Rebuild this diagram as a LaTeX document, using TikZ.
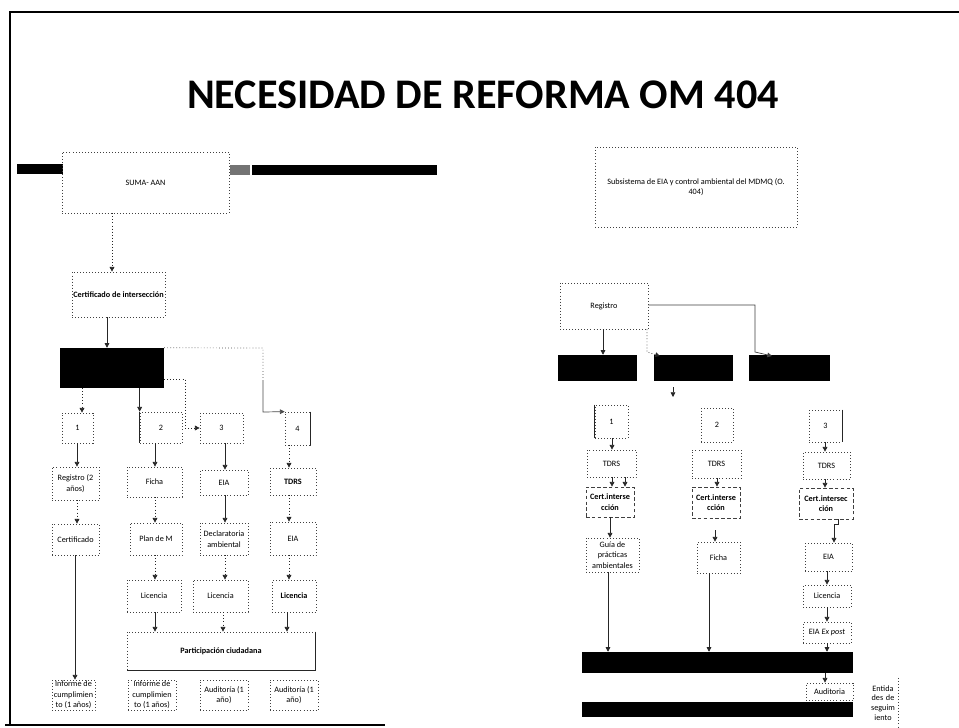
\documentclass[tikz,border=0pt]{standalone}
\usepackage{fontspec}
\setmainfont{Carlito}
\usetikzlibrary{arrows.meta}
\newcommand\pxu{0.3mm}
\newcommand\smf{\fontsize{7}{9}\selectfont}
\begin{document}
\begin{tikzpicture}[x=0.3mm,y=-0.3mm,
  bx/.style={draw=black!75, dotted, line width=0.6pt, inner sep=0pt, align=center, font=\smf, text=black},
  sz/.style 2 args={minimum width=#1*\pxu, minimum height=#2*\pxu},
  blk/.style={fill=black, draw=none, inner sep=0pt},
  arr/.style={-{Triangle[length=4pt,width=4pt]}, line width=0.6pt, black!85},
  darr/.style={arr, dotted},
  edge/.style={line width=1.2pt, black},
]
\fill[white] (0,0) rectangle (959,728);
\useasboundingbox (0,0) rectangle (959,728);
% slide frame
\draw[edge] (10,725) -- (10,12) -- (959,12);
\draw[edge] (5,725) -- (385,725);
% title
\node[font=\fontsize{36}{42}\selectfont\bfseries] (title) at (483,95) {NECESIDAD DE REFORMA OM 404};

% ---------- left diagram ----------
\node[blk, sz={46}{10}] (sumablk) at (40,169) {};
\node[blk, sz={185}{10}] (topbar) at (344.5,170) {};
\node[fill=black!55, inner sep=0pt, sz={20}{10}] (topbarl) at (240,170) {};
\node[bx, sz={167}{61}] (suma) at (145.5,182.5) {SUMA- AAN};
\node[bx, sz={93}{45}, font=\smf\bfseries] (cert) at (118.5,294.5) {Certificado de intersección};
\node[blk, sz={104}{40}] (blk1) at (112,368) {};
\node[bx, sz={31}{30}] (b1) at (77.5,428) {1};
\node[bx, sz={42}{31}] (b2) at (161,427.5) {2};
\node[bx, sz={43}{30}] (b3) at (221.5,428) {3};
\node[bx, sz={25}{33}] (b4) at (297.5,428.5) {4};
\draw[line width=0.6pt, black!85] (b2.north west) -- (b2.south west);
\draw[line width=0.6pt, black!85] (b4.north east) -- (b4.south east);

\node[bx, sz={47}{33}] (reg) at (75.5,483.5) {Registro (2\\años)};
\node[bx, sz={47}{31}] (cer) at (75.5,539.5) {Certificado};
\node[bx, sz={43}{30}] (inf1) at (73.5,695) {Informe de\\cumplimien\\to (1 años)};

\node[bx, sz={55}{30}] (ficha) at (154.5,482) {Ficha};
\node[bx, sz={52}{32}] (plan) at (156,539) {Plan de M};
\node[bx, sz={54}{32}] (lic2) at (154,596) {Licencia};
\node[bx, sz={48}{30}] (inf2) at (152,695) {Informe de\\cumplimien\\to (1 años)};

\node[bx, sz={48}{25}] (eia3) at (224,482.5) {EIA};
\node[bx, sz={48}{32}] (decl) at (224,539) {Declaratoria\\ambiental};
\node[bx, sz={55}{32}] (lic3) at (220.5,596) {Licencia};
\node[bx, sz={48}{30}] (aud3) at (224,695) {Auditoría (1\\año)};

\node[bx, sz={46}{27}, font=\smf\bfseries] (tdrs4) at (293,481.5) {TDRS};
\node[bx, sz={46}{33}] (eia4) at (293,538.5) {EIA};
\node[bx, sz={44}{32}, font=\smf\bfseries] (lic4) at (294,596) {Licencia};
\node[bx, sz={48}{30}] (aud4) at (294,695) {Auditoría (1\\año)};

\node[bx, sz={188}{38}, font=\smf\bfseries] (part) at (221,651) {Participación ciudadana};
\draw[line width=0.6pt, black!85] (part.north east) -- (part.south east) -- (part.south west);

% left connectors
\draw[darr] (suma.south -| 112,0) -- (cert.north -| 112,0);
\draw[arr] (cert.south -| 107,0) -- (blk1.north -| 107,0);
\draw[darr] (blk1.south -| 82,0) -- (b1.north -| 82,0);
\draw[arr] (blk1.south -| b2.west) -- (b2.north west);
\coordinate (c3a) at (185,379);
\draw[darr] (blk1.east |- c3a) -- (c3a) -- (185,428) -- (b3.west);
\coordinate (c4a) at (263,348);
\draw[line width=0.6pt, black!70, dotted] (blk1.north east) -- (c4a) -- (263,380);
\draw[arr, black!70] (263,380) -- (263,412) -- (b4.north west);

\draw[arr] (b1.south -| 77,0) -- (reg.north -| 77,0);
\draw[darr] (reg.south -| 77,0) -- (cer.north -| 77,0);
\draw[arr] (cer.south -| 75,0) -- (inf1.north -| 75,0);

\draw[arr] (b2.south -| 155,0) -- (ficha.north -| 155,0);
\draw[darr] (ficha.south -| 155,0) -- (plan.north -| 155,0);
\draw[darr] (plan.south -| 155,0) -- (lic2.north -| 155,0);
\draw[arr] (lic2.south -| 155,0) -- (part.north -| 155,0);

\draw[arr] (b3.south -| 225,0) -- (eia3.north -| 225,0);
\draw[arr] (eia3.south -| 225,0) -- (decl.north -| 225,0);
\draw[darr] (decl.south -| 225,0) -- (lic3.north -| 225,0);
\draw[darr] (lic3.south -| 223,0) -- (part.north -| 223,0);

\draw[darr] (b4.south -| 289,0) -- (tdrs4.north -| 289,0);
\draw[darr] (tdrs4.south -| 289,0) -- (eia4.north -| 289,0);
\draw[darr] (eia4.south -| 289,0) -- (lic4.north -| 289,0);
\draw[arr] (lic4.south -| 287,0) -- (part.north -| 287,0);

% ---------- right diagram ----------
\node[bx, sz={202}{80}] (subs) at (696,187) {Subsistema de EIA y control ambiental del MDMQ (O.\\404)};
\node[bx, sz={88}{46}] (regR) at (604,306) {Registro};
\node[blk, sz={79}{26}] (bk1) at (597.5,368) {};
\node[blk, sz={79}{26}] (bk2) at (693.5,368) {};
\node[blk, sz={81}{26}] (bk3) at (789.5,368) {};
\draw[arr] (regR.south -| 603,0) -- (bk1.north -| 603,0);
\coordinate (cr1) at (755,305);
\draw[arr, black!75] (regR.east |- cr1) -- (cr1) -- (755,352) -- (772,356);
\coordinate (cr2) at (647,352);
\draw[darr] (regR.south -| cr2) -- (cr2) -- (660,356);
\coordinate (bk2d) at (673,397);
\draw[arr] (bk2.south -| bk2d) ++(0,6) -- (bk2d);

\node[bx, sz={33}{33}] (r1) at (611.5,421.5) {1};
\draw[line width=0.6pt, black!85] (r1.north west) -- (r1.south west);
\node[bx, sz={49}{27}] (r1t) at (611.5,463.5) {TDRS};
\node[bx, sz={48}{30}, densely dashed, font=\smf\bfseries] (r1c) at (610,502) {Cert.interse\\cción};
\node[bx, sz={53}{34}] (r1g) at (612.5,555) {Guía de\\prácticas\\ambientales};

\node[bx, sz={32}{34}] (r2) at (717,425) {2};
\node[bx, sz={49}{28}] (r2t) at (716.5,464) {TDRS};
\node[bx, sz={48}{31}, densely dashed, font=\smf\bfseries] (r2c) at (716,502.5) {Cert.interse\\cción};
\node[bx, sz={43}{31}] (r2f) at (718.5,557.5) {Ficha};

\node[bx, sz={33}{32}] (r3) at (825.5,426) {3};
\draw[line width=0.6pt, black!85] (r3.north east) -- (r3.south east);
\node[bx, sz={47}{27}] (r3t) at (826.5,465.5) {TDRS};
\node[bx, sz={54}{31}, densely dashed, font=\smf\bfseries] (r3c) at (826,503.5) {Cert.intersec\\ción};
\node[bx, sz={47}{28}] (r3e) at (828.5,557) {EIA};
\node[bx, sz={48}{22}] (r3l) at (827,596) {Licencia};
\node[bx, sz={48}{21}] (r3x) at (827,632.5) {EIA \textit{Ex post}};

\node[blk, sz={271}{21}] (bar1) at (717.5,662.5) {};
\node[bx, sz={47}{17}] (aud) at (829.5,691.5) {Auditoria};
\node[blk, sz={271}{15}] (bar2) at (717.5,709.5) {};
\node[inner sep=0pt, align=center, font=\fontsize{7}{8.3}\selectfont, text=black, text width=30*\pxu, minimum height=50*\pxu] (ent) at (883,703) {Entida\\des de\\seguim\\iento};
\draw[dotted, line width=0.6pt, black!75] (ent.north east) -- (ent.south east);

\draw[arr] (r1.south -| 612,0) -- (r1t.north -| 612,0);
\draw[arr] (r1t.south -| 612,0) -- (r1c.north -| 612,0);
\draw[arr] (r1t.south -| 625,0) -- (r1c.north -| 625,0);
\draw[arr] (r1c.south -| 610,0) -- (r1g.north -| 610,0);
\draw[arr] (r1g.south -| 608,0) -- (bar1.north -| 608,0);

\draw[arr] (r2t.south -| 717,0) -- (r2c.north -| 717,0);
\draw[arr] (r2c.south -| 715,0) ++(0,12) -- (r2f.north -| 715,0);
\draw[arr] (r2f.south -| 709,0) -- (bar1.north -| 709,0);

\draw[arr] (r3.south -| 825,0) -- (r3t.north -| 825,0);
\draw[arr] (r3t.south -| 825,0) -- (r3c.north -| 825,0);
\draw[arr] (r3c.south -| 838,0) -- (838,524) -- (834,524) -- (r3e.north -| 834,0);
\draw[arr] (r3e.south -| 827,0) -- (r3l.north -| 827,0);
\draw[arr] (r3l.south -| 827,0) -- (r3x.north -| 827,0);
\draw[arr] (r3x.south -| 827,0) -- (bar1.north -| 827,0);
\draw[arr] (bar1.south -| 825,0) -- (aud.north -| 825,0);
\end{tikzpicture}
\end{document}
